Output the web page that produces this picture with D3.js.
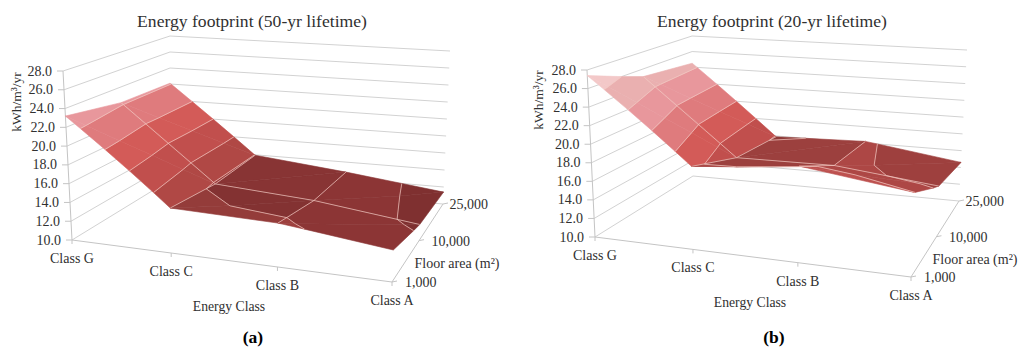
<!DOCTYPE html>
<html>
<head>
<meta charset="utf-8">
<script src="https://cdn.jsdelivr.net/npm/d3@7"></script>
<style>
body { margin: 0; background: #fff; }
text { font-family: "Liberation Serif", serif; fill: #303030; }
</style>
</head>
<body>
<svg id="chart" width="1024" height="354"></svg>
<script>
// values, kWh/m3/yr, rows = class, columns = floor area
var classes = ["Class G", "Class C", "Class B", "Class A"];
var floorAreas = ["1,000", "10,000", "25,000"];
var valueTicks = [10, 12, 14, 16, 18, 20, 22, 24, 26, 28];
var footprint50 = [
    [23.2, 22.2, 22.1],
    [14.6, 13.85, 13.95],
    [14.3, 13.1, 12.8],
    [13.0, 11.7, 11.4]
];
var footprint20 = [
    [27.4, 25.1, 24.5],
    [18.6, 16.5, 15.9],
    [19.6, 16.6, 16.2],
    [18.05, 15.4, 14.6]
];
// one colour per 2.0 band, flat shading, starting at 10-12
var bandColors = ["#722b2b", "#7e3030", "#8e3a38", "#9c403e", "#aa4947", "#b46365", "#bb7a7e", "#bd8e8e", "#c4a1a1"];

var classScale = d3.scaleOrdinal().domain(classes).range([0, 0.31, 0.642, 1]);
var floorScale = d3.scaleOrdinal().domain(floorAreas).range([0, 0.53, 1]);
var zScale = d3.scaleLinear().domain([10, 28]).range([0, 1]);
var bandScale = d3.scaleQuantize().domain([10, 28]).range(bandColors);

var svg = d3.select("#chart");
var pathOf = d3.line();

var panels = [
    {
        title: "Energy footprint (50-yr lifetime)", tag: "(a)", values: footprint50,
        titleX: 252, tagX: 253, axisX: 17, axisY: 102, energy: [229, 306], floor: [457, 263],
        fl: [72, 240], fr: [392, 282], bl: [170, 180], br: [443, 204],
        tfl: [63, 71], tfr: [400, 90], tbl: [170, 36], tbr: [450, 51]
    },
    {
        title: "Energy footprint (20-yr lifetime)", tag: "(b)", values: footprint20,
        titleX: 772, tagX: 774, axisX: 539, axisY: 100, energy: [750, 302], floor: [975, 259],
        fl: [595, 237], fr: [911, 277], bl: [693, 176], br: [959, 201],
        tfl: [587, 70], tfr: [919, 88], tbl: [692, 36], tbr: [967, 50]
    }
];

function mix(a, b, t) {
    return [a[0] + (b[0] - a[0]) * t, a[1] + (b[1] - a[1]) * t];
}

// u along the classes, v along floor area, w up the value axis
function projector(p) {
    return function (u, v, w) {
        var bottom = mix(mix(p.fl, p.fr, u), mix(p.bl, p.br, u), v);
        var top = mix(mix(p.tfl, p.tfr, u), mix(p.tbl, p.tbr, u), v);
        return mix(bottom, top, w);
    };
}

function crossing(a, b, level) {
    var t = (level - a.z) / (b.z - a.z);
    return { u: a.u + (b.u - a.u) * t, v: a.v + (b.v - a.v) * t, z: level };
}

// keep the part of a polygon on one side of a level
function clip(poly, level, keepAbove) {
    var out = [];
    poly.forEach(function (a, i) {
        var b = poly[(i + 1) % poly.length];
        var aIn = keepAbove ? a.z >= level : a.z <= level;
        var bIn = keepAbove ? b.z >= level : b.z <= level;
        if (aIn) out.push(a);
        if (aIn !== bIn) out.push(crossing(a, b, level));
    });
    return out;
}

function lit(color, factor) {
    var c = d3.rgb(color);
    return d3.rgb(c.r * factor, c.g * factor, c.b * factor).formatHex();
}

function drawPanel(p) {
    var project = projector(p);
    var g = svg.append("g");
    var zAt = function (d) { return zScale(d); };
    var onScreen = function (q) { return project(q.u, q.v, zAt(q.z)); };

    // walls
    valueTicks.forEach(function (t) {
        var w = zAt(t);
        g.append("path").attr("d", pathOf([project(0, 0, w), project(0, 1, w), project(1, 1, w)]))
            .attr("fill", "none").attr("stroke", "#d2d2d2");
    });
    // axes
    g.append("path").attr("d", pathOf([project(0, 0, 1), project(0, 0, 0), project(1, 0, 0), project(1, 1, 0)]))
        .attr("fill", "none").attr("stroke", "#c4c4c4");

    valueTicks.forEach(function (t) {
        var a = project(0, 0, zAt(t));
        g.append("path").attr("d", pathOf([a, [a[0] - 6, a[1]]])).attr("stroke", "#c4c4c4");
        g.append("text").attr("x", a[0] - 11).attr("y", a[1] + 4.5)
            .attr("text-anchor", "end").attr("font-size", 14).text(t.toFixed(1));
    });
    classes.forEach(function (c) {
        var a = project(classScale(c), 0, 0);
        g.append("path").attr("d", pathOf([a, [a[0], a[1] + 4]])).attr("stroke", "#c4c4c4");
        g.append("text").attr("x", a[0]).attr("y", a[1] + 23)
            .attr("text-anchor", "middle").attr("font-size", 14).text(c);
    });
    var floorDx = [13, 12.5, 6.5];
    floorAreas.forEach(function (f, i) {
        var a = project(1, floorScale(f), 0);
        g.append("path").attr("d", pathOf([a, [a[0] + 5, a[1] - 1]])).attr("stroke", "#c4c4c4");
        g.append("text").attr("x", a[0] + floorDx[i]).attr("y", a[1] + 5)
            .attr("font-size", 14).text(f);
    });

    // surface, back cells first
    var fills = g.append("g");
    var lines = g.append("g").attr("fill", "none").attr("stroke", "#f2c9c2")
        .attr("stroke-opacity", 0.7).attr("stroke-width", 1);
    var vertex = function (i, j) {
        return { u: classScale(classes[i]), v: floorScale(floorAreas[j]), z: p.values[i][j] };
    };
    for (var j = floorAreas.length - 2; j >= 0; j--) {
        for (var i = 0; i < classes.length - 1; i++) {
            var slope = (p.values[i][j] + p.values[i][j + 1] - p.values[i + 1][j] - p.values[i + 1][j + 1]) / 2;
            var factor = 1 + 0.24 * Math.min(1, Math.max(0, slope) / 3);
            var a = vertex(i, j), b = vertex(i + 1, j), c = vertex(i + 1, j + 1), d = vertex(i, j + 1);
            [[a, b, c], [a, c, d]].forEach(function (tri) {
                valueTicks.slice(0, -1).forEach(function (lo) {
                    var poly = clip(clip(tri, lo, true), lo + 2, false);
                    if (poly.length < 3) return;
                    var color = lit(bandScale(lo + 1), factor);
                    fills.append("path").attr("d", pathOf(poly.map(onScreen)) + "Z")
                        .attr("fill", color).attr("stroke", color).attr("stroke-width", 0.6);
                });
                // contour lines
                valueTicks.forEach(function (level) {
                    var pts = [];
                    tri.forEach(function (s, k) {
                        var e = tri[(k + 1) % 3];
                        if ((s.z - level) * (e.z - level) < 0) pts.push(crossing(s, e, level));
                    });
                    if (pts.length === 2) lines.append("path").attr("d", pathOf(pts.map(onScreen)));
                });
            });
        }
    }
    // mesh lines
    d3.range(1, classes.length - 1).forEach(function (i) {
        lines.append("path").attr("d", pathOf(floorAreas.map(function (f, j) { return onScreen(vertex(i, j)); })));
    });
    lines.append("path").attr("d", pathOf(classes.map(function (c, i) { return onScreen(vertex(i, 1)); })));

    // titles
    g.append("text").attr("x", p.titleX).attr("y", 27).attr("text-anchor", "middle")
        .attr("font-size", 17.6).text(p.title);
    g.append("text").attr("transform", "translate(" + (p.axisX + 4) + "," + p.axisY + ") rotate(-90)")
        .attr("text-anchor", "middle").attr("font-size", 13.5).text("kWh/m³/yr");
    g.append("text").attr("x", p.energy[0]).attr("y", p.energy[1] + 4.5).attr("text-anchor", "middle")
        .attr("font-size", 13.7).text("Energy Class");
    g.append("text").attr("x", p.floor[0]).attr("y", p.floor[1] + 4.5).attr("text-anchor", "middle")
        .attr("font-size", 14).text("Floor area (m²)");
    g.append("text").attr("x", p.tagX).attr("y", 343).attr("text-anchor", "middle")
        .attr("font-size", 17.5).attr("font-weight", "bold").style("fill", "#000").text(p.tag);
}

panels.forEach(drawPanel);
</script>
</body>
</html>
